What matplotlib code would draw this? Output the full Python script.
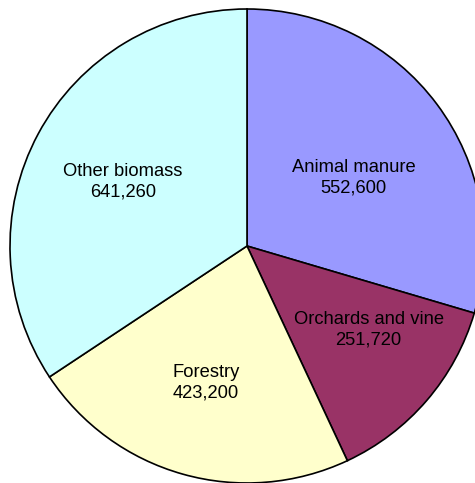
import matplotlib.pyplot as plt

categories = ['Animal manure', 'Orchards and vine', 'Forestry', 'Other biomass']
values = [552600, 251720, 423200, 641260]
colors = ['#9999FF', '#993366', '#FFFFCC', '#CCFFFF']
# label centres in pie (data) coordinates, as Excel placed them
label_pos = [(0.449, 0.289), (0.513, -0.352), (-0.173, -0.576), (-0.523, 0.272)]

plt.rcParams['font.family'] = ['Liberation Sans', 'DejaVu Sans']

fig = plt.figure(figsize=(4.75, 4.83), dpi=100)
ax = fig.add_axes([10 / 475, 0, 474 / 475, 474 / 483])
wedges, _ = ax.pie(values, colors=colors, startangle=90, counterclock=False,
                   wedgeprops={'edgecolor': 'black', 'linewidth': 1.2})
for name, val, (x, y) in zip(categories, values, label_pos):
    ax.text(x, y, f'{name}\n{val:,}', ha='center', va='center',
            fontsize=13.2, color='black', linespacing=1.25)
ax.set_xlim(-1, 1)
ax.set_ylim(-1, 1)
ax.set_aspect('equal')
ax.axis('off')

fig.savefig('out.png', dpi=100)
